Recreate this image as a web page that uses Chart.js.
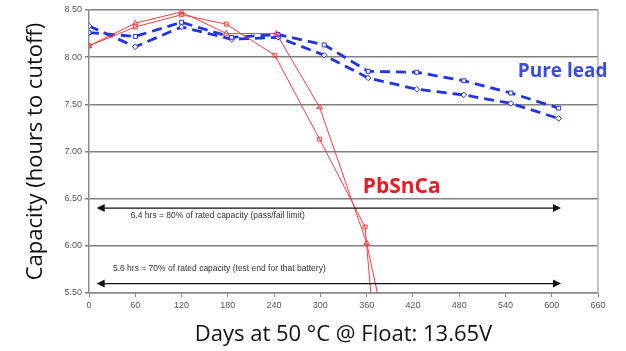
<!DOCTYPE html>
<html>
<head>
<meta charset="utf-8">
<script src="https://cdn.jsdelivr.net/npm/chart.js@4/dist/chart.umd.min.js"></script>
<style>
  html, body { margin: 0; padding: 0; background: #fff; }
  #wrap { width: 626px; height: 351px; }
</style>
</head>
<body>
<div id="wrap"><canvas id="capacity-chart" width="626" height="351"></canvas></div>
<script>
// pure lead cells (blue, dashed)
const leadDays = [0, 60, 120, 185, 245, 305, 362, 425, 486, 547, 609];
const leadSquare = [8.26, 8.22, 8.37, 8.21, 8.24, 8.13, 7.85, 7.84, 7.75, 7.62, 7.46];
const leadDiamond = [8.33, 8.11, 8.32, 8.19, 8.21, 8.02, 7.78, 7.66, 7.60, 7.51, 7.35];

// PbSnCa cells (red) - last point runs off the bottom of the axis
const pbDaysSquare = [0, 60, 120, 178, 241, 299, 358, 380];
const pbSquare = [8.12, 8.32, 8.45, 8.35, 8.02, 7.13, 6.20, 4.12];
const pbDaysTriangle = [0, 60, 120, 178, 243, 299, 360, 400];
const pbTriangle = [8.12, 8.36, 8.48, 8.25, 8.25, 7.47, 6.03, 4.51];

// reference lines
const limitLines = [
  { y: 6.4, from: 10, to: 612, text: '6.4 hrs = 80% of rated capacity (pass/fail limit)', tx: 54, ty: 6.32 },
  { y: 5.6, from: 10, to: 612, text: '5.6 hrs = 70% of rated capacity (test end for that battery)', tx: 31, ty: 5.76 }
];
const seriesLabels = [
  { text: 'Pure lead', x: 556, y: 7.85, color: '#3a4be0', size: 19 },
  { text: 'PbSnCa', x: 355, y: 6.62, color: '#e81c24', size: 21 }
];

const xTicks = { min: 0, max: 660, step: 60 };
const yTicks = { min: 5.5, max: 8.5, step: 0.5 };

const toPoints = (xs, ys) => xs.map((x, i) => ({ x: x, y: ys[i] }));

const BLUE = '#2233e6';
const RED = '#f04040';

const extras = {
  id: 'extras',
  afterDraw(chart) {
    const { ctx, chartArea } = chart;
    const xs = chart.scales.x, ys = chart.scales.y;
    ctx.save();
    // right frame line
    ctx.strokeStyle = '#b0b0b0';
    ctx.lineWidth = 1.5;
    ctx.beginPath();
    ctx.moveTo(chartArea.right, chartArea.top);
    ctx.lineTo(chartArea.right, chartArea.bottom);
    ctx.stroke();

    // double headed arrows + notes
    limitLines.forEach(l => {
      const y = ys.getPixelForValue(l.y);
      const x1 = xs.getPixelForValue(l.from);
      const x2 = xs.getPixelForValue(l.to);
      ctx.strokeStyle = '#111';
      ctx.fillStyle = '#111';
      ctx.lineWidth = 1.2;
      ctx.beginPath();
      ctx.moveTo(x1 + 6, y);
      ctx.lineTo(x2 - 6, y);
      ctx.stroke();
      ctx.beginPath();
      ctx.moveTo(x1, y); ctx.lineTo(x1 + 8, y - 4); ctx.lineTo(x1 + 8, y + 4); ctx.closePath();
      ctx.fill();
      ctx.beginPath();
      ctx.moveTo(x2, y); ctx.lineTo(x2 - 8, y - 4); ctx.lineTo(x2 - 8, y + 4); ctx.closePath();
      ctx.fill();

      ctx.font = '8.5px "Liberation Sans", Arial, sans-serif';
      ctx.fillStyle = '#333';
      ctx.textBaseline = 'middle';
      ctx.textAlign = 'left';
      ctx.fillText(l.text, xs.getPixelForValue(l.tx), ys.getPixelForValue(l.ty));
    });

    // series labels
    seriesLabels.forEach(s => {
      ctx.font = 'bold ' + s.size + 'px "Open Sans", sans-serif';
      ctx.fillStyle = s.color;
      ctx.textBaseline = 'middle';
      ctx.textAlign = 'left';
      ctx.fillText(s.text, xs.getPixelForValue(s.x), ys.getPixelForValue(s.y));
    });
    ctx.restore();
  }
};

const ctx = document.getElementById('capacity-chart');
new Chart(ctx, {
  type: 'line',
  data: {
    datasets: [
      {
        label: 'PbSnCa (square)',
        data: toPoints(pbDaysSquare, pbSquare),
        borderColor: RED, backgroundColor: '#fff',
        borderWidth: 1, pointStyle: 'rect', pointRadius: 2.8,
        pointBorderColor: RED, pointBackgroundColor: 'rgba(255,255,255,0)', pointBorderWidth: 1
      },
      {
        label: 'PbSnCa (triangle)',
        data: toPoints(pbDaysTriangle, pbTriangle),
        borderColor: RED, backgroundColor: '#fff',
        borderWidth: 1, pointStyle: 'triangle', pointRadius: 3.2,
        pointBorderColor: RED, pointBackgroundColor: 'rgba(255,255,255,0)', pointBorderWidth: 1
      },
      {
        label: 'Pure lead (square)',
        data: toPoints(leadDays, leadSquare),
        borderColor: BLUE, backgroundColor: '#fff',
        borderWidth: 2.8, borderDash: [10, 6], pointStyle: 'rect', pointRadius: 2.8,
        pointBorderColor: BLUE, pointBackgroundColor: '#fff', pointBorderWidth: 1
      },
      {
        label: 'Pure lead (diamond)',
        data: toPoints(leadDays, leadDiamond),
        borderColor: BLUE, backgroundColor: '#fff',
        borderWidth: 2.8, borderDash: [10, 6], pointStyle: 'rectRot', pointRadius: 2.8,
        pointBorderColor: BLUE, pointBackgroundColor: '#fff', pointBorderWidth: 1
      }
    ]
  },
  options: {
    responsive: false,
    animation: false,
    devicePixelRatio: 1,
    layout: { padding: { top: 10, right: 28, left: 0, bottom: 0 } },
    plugins: { legend: { display: false }, tooltip: { enabled: false } },
    scales: {
      x: {
        type: 'linear',
        min: xTicks.min, max: xTicks.max,
        afterFit(scale) { scale.height = 58; },
        ticks: {
          stepSize: xTicks.step, color: '#555', padding: 3,
          font: { family: '"Liberation Sans", Arial, sans-serif', size: 9 },
          maxRotation: 0
        },
        grid: { drawOnChartArea: false, drawTicks: true, tickLength: 4, color: '#8a8a8a', lineWidth: 1 },
        border: { color: '#8a8a8a', width: 1.5 },
        title: {
          display: true, text: 'Days at 50 °C @ Float: 13.65V', color: '#111',
          font: { family: '"Open Sans", sans-serif', size: 22 },
          padding: { top: 0, bottom: 3 }
        }
      },
      y: {
        min: yTicks.min, max: yTicks.max,
        afterFit(scale) { scale.width = 89; },
        ticks: {
          stepSize: yTicks.step, color: '#555', padding: 3,
          font: { family: '"Liberation Sans", Arial, sans-serif', size: 9 },
          callback: v => v.toFixed(2)
        },
        grid: { color: '#808080', lineWidth: 1.5, tickLength: 4 },
        border: { color: '#8a8a8a', width: 1.5 },
        title: {
          display: true, text: 'Capacity (hours to cutoff)', color: '#111',
          font: { family: '"Open Sans", sans-serif', size: 22 },
          padding: { top: 23, bottom: 0 }
        }
      }
    }
  },
  plugins: [extras]
});
</script>
</body>
</html>
